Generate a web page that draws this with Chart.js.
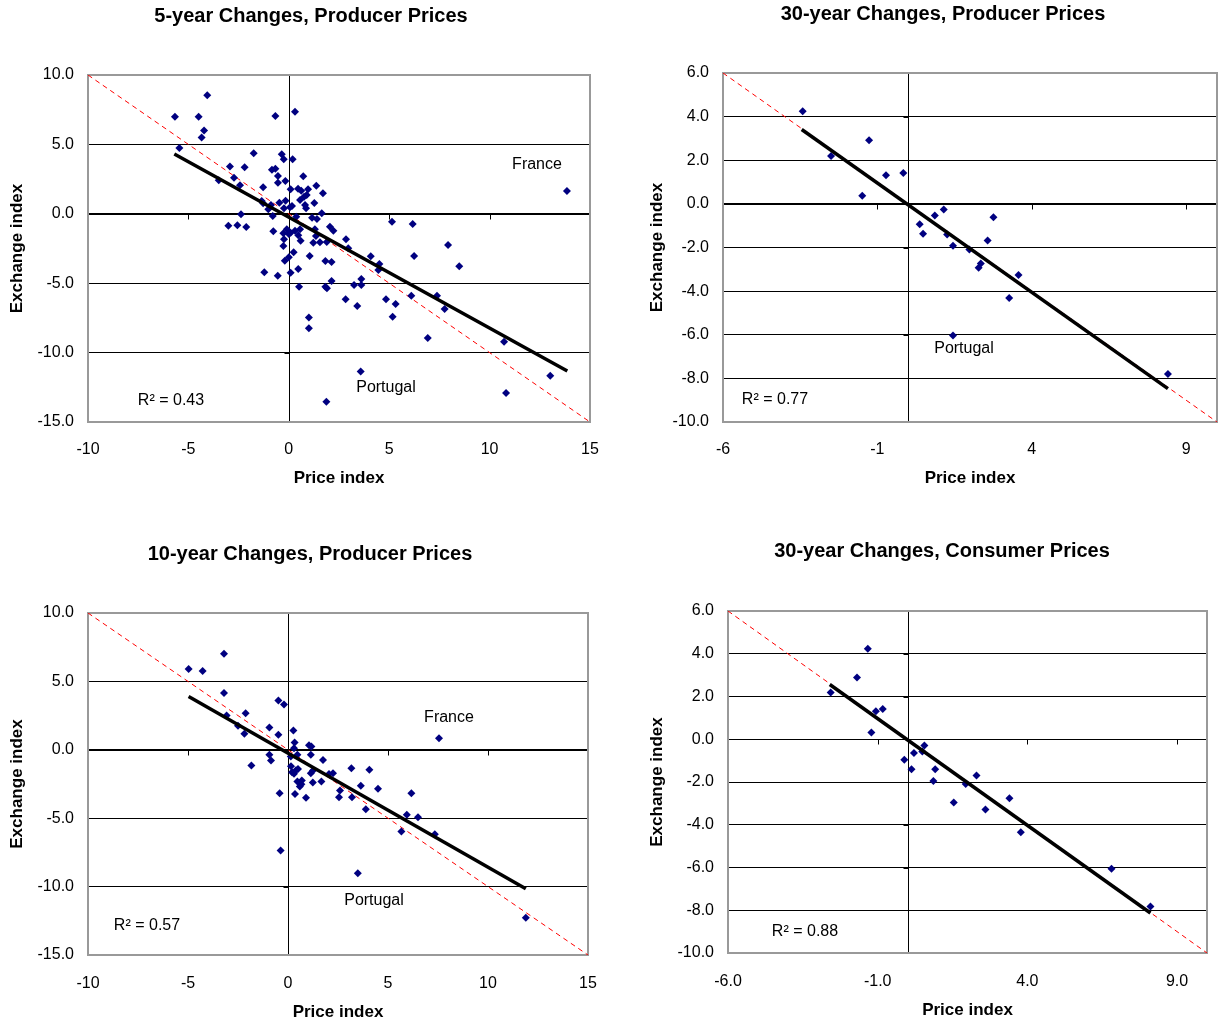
<!DOCTYPE html>
<html>
<head>
<meta charset="utf-8">
<title>Exchange index vs price index</title>
<script src="https://cdn.jsdelivr.net/npm/chart.js@4.4.0/dist/chart.umd.min.js"></script>
<style>
  html, body { margin: 0; padding: 0; background: #fff; }
  body { width: 1218px; height: 1023px; position: relative; overflow: hidden; }
  canvas { position: absolute; }
</style>
</head>
<body>
<canvas id="c5" width="609" height="500" style="left:0;top:0"></canvas>
<canvas id="c30p" width="609" height="500" style="left:609px;top:0"></canvas>
<canvas id="c10" width="609" height="523" style="left:0;top:500px"></canvas>
<canvas id="c30c" width="609" height="523" style="left:609px;top:500px"></canvas>
<script>
// ---- data ----

// 5-year changes, producer prices
var p5Price = [-4.06, -5.67, -4.49, -0.67, 0.31, -4.22, -4.34, -5.45, -1.75, -0.35, -0.25, 0.19, -2.93, -2.2, -0.84, -0.67,
  -2.73, -3.49, -0.54, -0.17, -0.54, 0.72, -2.43, -1.28, 0.09, 0.46, 0.62, 0.96, 1.37, 1.7, 0.89, 0.76, 0.56, -0.16,
  -1.35, -0.89, -1.28, -0.47, 0.16, 0.06, 0.81, 0.86, 1.27, -0.24, -1.02, -0.8, 0.37, -2.38, 1.16, 1.4, 1.64, -3.01,
  -2.56, -2.12, -0.77, -0.1, 0.09, 0.31, 0.56, -0.27, 0, 0.47, 1.3, 1.35, 2.05, 2.22, -0.24, 0.59, 1.22, 1.55, 1.89,
  -0.27, 0.24, 1.04, 0, -0.2, -1.22, -0.55, 0.09, 0.47, 1.82, 2.13, 0.51, 1.82, 1.9, 2.13, 1.0, 1.0, 1.87, 2.83, 3.41,
  3.25, 3.61, 3.61, 4.08, 4.51, 4.46, 4.84, 5.32, 5.17, 6.1, 7.38, 7.76, 6.24, 7.93, 8.49, 6.92, 10.72, 10.82, 13.02,
  3.58, 5.14, 6.17, 13.85, 2.85, 2.96];
var p5Exch = [8.54, 7.0, 7.0, 7.05, 7.36, 6.0, 5.5, 4.74, 4.36, 4.29, 3.93, 3.93, 3.4, 3.35, 3.18, 3.25,
  2.6, 2.41, 2.72, 2.36, 2.24, 2.7, 2.05, 1.91, 1.76, 1.81, 1.66, 1.76, 2.02, 1.48, 1.35, 1.23, 0.99, 0.94,
  0.92, 0.63, 0.76, 0.8, 0.56, 0.47, 0.63, 0.4, 0.78, 0.4, 0.32, -0.16, -0.21, -0.04, -0.28, -0.37, 0.04, -0.86,
  -0.83, -0.95, -1.26, -1.12, -1.36, -1.22, -1.12, -1.41, -1.46, -1.55, -1.12, -1.6, -0.93, -1.22, -1.84, -1.94, -2.08, -2.05, -2.03,
  -2.32, -2.77, -3.04, -3.13, -3.38, -4.22, -4.46, -4.24, -3.98, -3.4, -3.47, -5.25, -5.25, -5.37, -4.84, -7.48, -8.25, -13.54, -6.16, -6.64,
  -5.13, -5.13, -4.7, -3.06, -3.62, -4.05, -6.16, -6.5, -7.41, -5.9, -5.9, -6.86, -3.04, -2.25, -3.78, -8.95, -9.21, -12.91, -11.66,
  -11.37, -0.57, -0.73, 1.64, -1.84, -2.49];
var p5Trend = [[-5.70, 4.31], [13.87, -11.33]];
var p5XTicks = [-10, -5, 0, 5, 10, 15];
var p5YTicks = [-15, -10, -5, 0, 5, 10];

// 30-year changes, producer prices
var p30Price = [-3.42, -2.5, -1.27, -0.72, -0.16, -1.49, 0.37, 0.48, 0.86, 1.15, 1.26, 1.45, 1.45, 2.76, 2.57, 1.98,
  2.28, 2.35, 3.57, 3.27, 8.41];
var p30Exch = [4.25, 2.2, 2.92, 1.31, 1.42, 0.37, -0.93, -1.37, -0.53, -0.26, -1.4, -1.92, -6.03, -0.61, -1.68, -2.09,
  -2.93, -2.73, -3.26, -4.32, -7.8];
var p30Trend = [[-3.45, 3.41], [8.41, -8.47]];
var p30XTicks = [-6, -1, 4, 9];
var p30YTicks = [-10, -8, -6, -4, -2, 0, 2, 4, 6];

// 10-year changes, producer prices
var p10Price = [-3.2, -4.97, -4.27, -3.2, -0.48, -0.2, -3.07, -2.12, -2.5, -2.18, -0.93, -0.48, 0.27, 0.33, 0.3, 1.05,
  1.17, -0.93, -0.85, -1.83, 0.14, 0.47, 1.14, 1.75, 0.15, 0.4, 0.5, 0.3, 0.2, 1.14, 1.25, 0.47, 0.69, 0.59, 0.67,
  1.24, 1.67, -0.42, 0.35, 0.9, 2.05, 2.25, 2.6, 2.55, -0.37, 3.17, 4.07, 3.64, 3.2, 4.5, 3.89, 6.17, 5.94, 6.5,
  5.67, 7.34, 7.55, 3.49, 11.89];
var p10Exch = [7.02, 5.9, 5.76, 4.15, 3.61, 3.32, 2.51, 2.68, 1.76, 1.17, 1.63, 1.1, 1.41, 0.53, 0.12, 0.34,
  0.24, -0.37, -0.78, -1.15, -0.49, -0.37, -0.37, -0.75, -1.2, -1.5, -1.4, -1.75, -1.65, -1.71, -1.51, -2.32, -2.25, -2.68, -2.52,
  -2.39, -2.32, -3.17, -3.24, -3.51, -1.76, -1.71, -2.98, -3.46, -7.37, -1.34, -1.46, -2.62, -3.46, -2.85, -4.34, -3.17, -4.75, -4.93,
  -5.97, -6.17, 0.85, -9.02, -12.27];
var p10Trend = [[-4.97, 3.9], [11.89, -10.15]];
var p10XTicks = [-10, -5, 0, 5, 10, 15];
var p10YTicks = [-15, -10, -5, 0, 5, 10];

// 30-year changes, consumer prices
var c30Price = [-1.33, -1.69, -2.57, -1.06, -0.83, -1.21, -0.11, 0.21, 0.56, 0.49, 0.13, 0.92, 0.86, 1.54, 1.94, 2.3,
  2.6, 3.4, 3.78, 6.81, 8.11];
var c30Exch = [4.23, 2.89, 2.19, 1.31, 1.41, 0.31, -0.96, -0.64, -0.29, -0.57, -1.4, -1.4, -1.95, -2.96, -2.09, -1.7,
  -3.29, -2.76, -4.35, -6.06, -7.82];
var c30Trend = [[-2.6, 2.56], [8.11, -8.13]];
var c30XTicks = [-6, -1, 4, 9];
var c30YTicks = [-10, -8, -6, -4, -2, 0, 2, 4, 6];

var FONT = '"Liberation Sans", Arial, sans-serif';

function toPoints(xs, ys) {
  return xs.map(function (v, i) { return { x: v, y: ys[i] }; });
}

// zero axes, small tick marks, frame and the free text of each panel
var panelDecor = {
  id: 'panelDecor',
  beforeDatasetsDraw: function (chart, args, o) {
    var ctx = chart.ctx, a = chart.chartArea, sx = chart.scales.x, sy = chart.scales.y;
    var x0 = Math.round(sx.getPixelForValue(0)) + 0.5;
    var y0 = Math.round(sy.getPixelForValue(0)) + 0.5;
    ctx.save();
    ctx.strokeStyle = '#000';
    ctx.lineWidth = 1;
    ctx.beginPath();
    ctx.moveTo(x0, a.top); ctx.lineTo(x0, a.bottom);
    ctx.moveTo(a.left, y0); ctx.lineTo(a.right, y0);
    sx.ticks.forEach(function (t) {
      var px = Math.round(sx.getPixelForValue(t.value)) + 0.5;
      ctx.moveTo(px, y0); ctx.lineTo(px, y0 + 5);
    });
    sy.ticks.forEach(function (t) {
      var py = Math.round(sy.getPixelForValue(t.value)) + 0.5;
      ctx.moveTo(x0 - 5, py); ctx.lineTo(x0, py);
    });
    ctx.stroke();
    ctx.strokeStyle = '#999';
    ctx.lineWidth = 2;
    ctx.strokeRect(a.left, a.top, a.right - a.left, a.bottom - a.top);
    ctx.restore();
  },
  afterDraw: function (chart, args, o) {
    var ctx = chart.ctx;
    ctx.save();
    ctx.fillStyle = '#000';
    ctx.textAlign = 'center';
    ctx.textBaseline = 'middle';
    ctx.font = 'bold 20px ' + FONT;
    ctx.fillText(o.title, o.titlePos[0], o.titlePos[1]);
    ctx.font = '16px ' + FONT;
    (o.notes || []).forEach(function (n) {
      ctx.fillText(n.text, n.pos[0], n.pos[1]);
    });
    ctx.restore();
  }
};

function makePanel(id, p) {
  var yFmt = function (v) { return v.toFixed(1); };
  var diag = p.xRange.map(function (v) { return { x: v, y: -v }; });
  return new Chart(document.getElementById(id), {
    type: 'scatter',
    data: {
      datasets: [{
        data: toPoints([p.trend[0][0], p.trend[1][0]], [p.trend[0][1], p.trend[1][1]]),
        showLine: true, borderColor: '#000', borderWidth: 3.5, pointRadius: 0, order: 0
      }, {
        data: toPoints(p.price, p.exch),
        pointStyle: 'rectRot', pointRadius: 4, backgroundColor: '#000080', borderColor: '#000080',
        borderWidth: 0, order: 1
      }, {
        data: diag,
        showLine: true, borderColor: '#ff0000', borderWidth: 1, borderDash: [5, 4], pointRadius: 0, order: 2
      }]
    },
    options: {
      responsive: false,
      animation: false,
      layout: { autoPadding: false, padding: { left: 0, top: p.top, right: p.right, bottom: 0 } },
      plugins: {
        legend: { display: false },
        tooltip: { enabled: false },
        panelDecor: { title: p.title, titlePos: p.titlePos, notes: p.notes }
      },
      scales: {
        x: {
          type: 'linear',
          min: p.xRange[0], max: p.xRange[1],
          afterBuildTicks: function (s) { s.ticks = p.xTicks.map(function (v) { return { value: v }; }); },
          afterFit: function (s) { s.height = p.xh; },
          grid: { display: false, drawTicks: true, tickLength: p.tl },
          border: { display: false },
          ticks: { padding: 0, color: '#000', font: { family: FONT, size: 16 }, callback: p.xFmt },
          title: { display: true, text: 'Price index', color: '#000',
            font: { family: FONT, size: 17, weight: 'bold' }, padding: { top: 0, bottom: p.xtPad } }
        },
        y: {
          type: 'linear',
          min: p.yTicks[0], max: p.yTicks[p.yTicks.length - 1],
          afterBuildTicks: function (s) { s.ticks = p.yTicks.map(function (v) { return { value: v }; }); },
          afterFit: function (s) { s.width = p.yw; },
          grid: {
            drawTicks: false,
            color: function (c) {
              var v = c.tick && c.tick.value;
              return (v === p.yTicks[0] || v === p.yTicks[p.yTicks.length - 1]) ? 'rgba(0,0,0,0)' : '#000';
            }
          },
          border: { display: false },
          ticks: { padding: 14, color: '#000', font: { family: FONT, size: 16 }, callback: yFmt },
          title: { display: true, text: 'Exchange index', color: '#000',
            font: { family: FONT, size: 17, weight: 'bold' }, padding: { top: p.ytPad, bottom: 0 } }
        }
      }
    },
    plugins: [panelDecor]
  });
}

var intFmt = function (v) { return String(v); };
var decFmt = function (v) { return v.toFixed(1); };

makePanel('c5', {
  price: p5Price, exch: p5Exch, trend: p5Trend, xTicks: p5XTicks, yTicks: p5YTicks, xRange: [-10, 15],
  xFmt: intFmt, top: 75, right: 19, yw: 88, xh: 78, tl: 18, xtPad: 11, ytPad: 7,
  title: '5-year Changes, Producer Prices', titlePos: [311, 16],
  notes: [{ text: 'France', pos: [537, 165] }, { text: 'Portugal', pos: [386, 388] }, { text: 'R\u00b2 = 0.43', pos: [171, 401] }]
});
makePanel('c30p', {
  price: p30Price, exch: p30Exch, trend: p30Trend, xTicks: p30XTicks, yTicks: p30YTicks, xRange: [-6, 10],
  xFmt: intFmt, top: 73, right: 1, yw: 114, xh: 78, tl: 18, xtPad: 11, ytPad: 38,
  title: '30-year Changes, Producer Prices', titlePos: [334, 14],
  notes: [{ text: 'Portugal', pos: [355, 349] }, { text: 'R\u00b2 = 0.77', pos: [166, 400] }]
});
makePanel('c10', {
  price: p10Price, exch: p10Exch, trend: p10Trend, xTicks: p10XTicks, yTicks: p10YTicks, xRange: [-10, 15],
  xFmt: intFmt, top: 113, right: 21, yw: 88, xh: 68, tl: 19, xtPad: 0, ytPad: 7,
  title: '10-year Changes, Producer Prices', titlePos: [310, 54],
  notes: [{ text: 'France', pos: [449, 218] }, { text: 'Portugal', pos: [374, 401] }, { text: 'R\u00b2 = 0.57', pos: [147, 426] }]
});
makePanel('c30c', {
  price: c30Price, exch: c30Exch, trend: c30Trend, xTicks: c30XTicks, yTicks: c30YTicks, xRange: [-6, 10],
  xFmt: decFmt, top: 111, right: 11, yw: 119, xh: 70, tl: 19, xtPad: 2, ytPad: 38,
  title: '30-year Changes, Consumer Prices', titlePos: [333, 51],
  notes: [{ text: 'R\u00b2 = 0.88', pos: [196, 432] }]
});
</script>
</body>
</html>
